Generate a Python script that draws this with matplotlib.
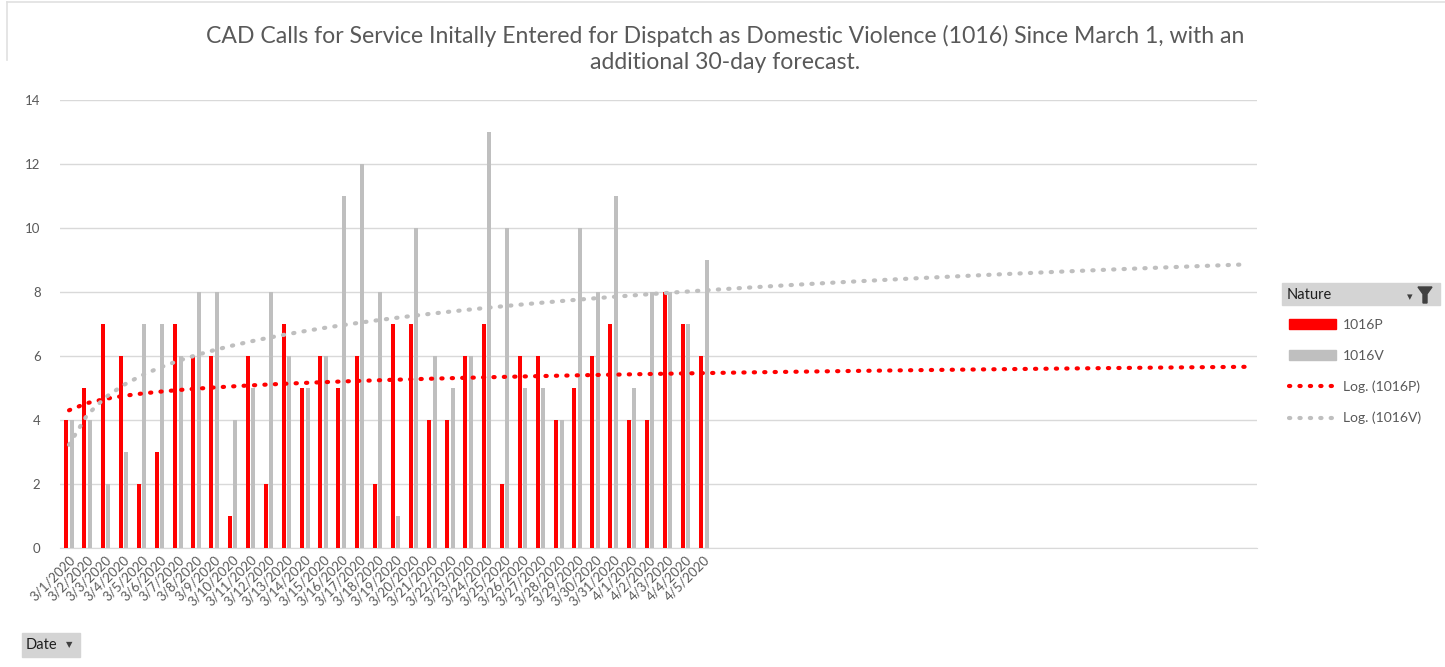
import numpy as np
import matplotlib.pyplot as plt
from matplotlib.patches import Patch, Rectangle, Polygon
from matplotlib.lines import Line2D

plt.rcParams['font.family'] = ['Lato', 'DejaVu Sans']

# data
dates = ['3/1/2020', '3/2/2020', '3/3/2020', '3/4/2020', '3/5/2020', '3/6/2020',
         '3/7/2020', '3/8/2020', '3/9/2020', '3/10/2020', '3/11/2020', '3/12/2020',
         '3/13/2020', '3/14/2020', '3/15/2020', '3/16/2020', '3/17/2020', '3/18/2020',
         '3/19/2020', '3/20/2020', '3/21/2020', '3/22/2020', '3/23/2020', '3/24/2020',
         '3/25/2020', '3/26/2020', '3/27/2020', '3/28/2020', '3/29/2020', '3/30/2020',
         '3/31/2020', '4/1/2020', '4/2/2020', '4/3/2020', '4/4/2020', '4/5/2020']
calls_1016p = [4, 5, 7, 6, 2, 3, 7, 6, 6, 1, 6, 2, 7, 5, 6, 5, 6, 2,
               7, 7, 4, 4, 6, 7, 2, 6, 6, 4, 5, 6, 7, 4, 4, 8, 7, 6]
calls_1016v = [4, 4, 2, 3, 7, 7, 6, 8, 8, 4, 5, 8, 6, 5, 6, 11, 12, 8,
               1, 10, 6, 5, 6, 13, 10, 5, 5, 4, 10, 8, 11, 5, 8, 8, 7, 9]
forecast_days = 30

RED = '#ff0000'
GRAY = '#bfbfbf'
TXT = '#595959'

fig = plt.figure(figsize=(14.45, 6.67), dpi=100)
ax = fig.add_axes([0.0415, 0.1784, 0.8285, 0.6716])

n = len(dates)
x = np.arange(n)
ax.bar(x - 0.15, calls_1016p, width=0.22, color=RED, zorder=3)
ax.bar(x + 0.15, calls_1016v, width=0.22, color=GRAY, zorder=3)

# logarithmic trendlines (like Excel), extended 30 periods forward
t = np.arange(1, n + forecast_days + 1)
dots = (0, (0.3, 2.2))
for vals, col in [(calls_1016p, RED), (calls_1016v, GRAY)]:
    c, b = np.polyfit(np.log(np.arange(1, n + 1)), vals, 1)
    ax.plot(t - 1, c * np.log(t) + b, color=col, lw=3.0, linestyle=dots,
            dash_capstyle='round', zorder=4)

ax.set_xlim(-0.5, n + forecast_days - 0.5)
ax.set_ylim(0, 14)
ax.set_yticks(range(0, 15, 2))
ax.set_xticks(x)
ax.set_xticklabels(dates, rotation=45, ha='right', va='top', rotation_mode='anchor')
ax.tick_params(axis='x', length=0, labelsize=9.5, colors=TXT, pad=4)
ax.tick_params(axis='y', length=0, labelsize=9.5, colors=TXT, pad=14)
ax.grid(axis='y', color='#d9d9d9', lw=1, zorder=0)
for s in ['top', 'right', 'left']:
    ax.spines[s].set_visible(False)
ax.spines['bottom'].set_color('#d9d9d9')

fig.text(0.502, 0.962, 'CAD Calls for Service Initally Entered for Dispatch as Domestic Violence (1016) Since March 1, with an\nadditional 30-day forecast.',
         ha='center', va='top', fontsize=16.6, color=TXT, linespacing=1.25)

# faint frame at the top and left edge
fig.lines.append(Line2D([7 / 1445, 1], [1 - 2 / 667, 1 - 2 / 667], transform=fig.transFigure,
                        color='#e0e0e0', lw=1.2))
fig.lines.append(Line2D([7 / 1445, 7 / 1445], [1 - 2 / 667, 1 - 60 / 667], transform=fig.transFigure,
                        color='#e0e0e0', lw=1.2))

# legend
handles = [Patch(color=RED), Patch(color=GRAY),
           Line2D([], [], color=RED, lw=3.0, linestyle=dots, dash_capstyle='round'),
           Line2D([], [], color=GRAY, lw=3.0, linestyle=dots, dash_capstyle='round')]
labels = ['1016P', '1016V', 'Log. (1016P)', 'Log. (1016V)']
leg = fig.legend(handles, labels, loc='upper left', bbox_to_anchor=(0.888, 0.530),
                 frameon=False, fontsize=10, handlelength=3.4, labelspacing=1.35,
                 handletextpad=0.5, borderaxespad=0)
for tx in leg.get_texts():
    tx.set_color(TXT)

# "Nature" field button
fig.patches.append(Rectangle((1282 / 1445, 1 - 305 / 667), 158 / 1445, 22 / 667,
                             transform=fig.transFigure, color='#d4d4d4', zorder=1))
fig.text(1287 / 1445, 1 - 295 / 667, 'Nature', fontsize=10.5, color='#1f1f1f', va='center')
fig.patches.append(Polygon([(1418 / 1445, 1 - 287 / 667), (1432 / 1445, 1 - 287 / 667),
                            (1427 / 1445, 1 - 294 / 667), (1427 / 1445, 1 - 303 / 667),
                            (1423 / 1445, 1 - 303 / 667), (1423 / 1445, 1 - 294 / 667)],
                           closed=True, transform=fig.transFigure, color='#404040'))
fig.text(1410 / 1445, 1 - 297 / 667, '▾', fontsize=8, color='#404040', va='center', ha='center',
         family='DejaVu Sans')

# "Date" field button
fig.patches.append(Rectangle((22 / 1445, 1 - 657 / 667), 58 / 1445, 24 / 667,
                             transform=fig.transFigure, color='#d4d4d4', zorder=1))
fig.text(26 / 1445, 1 - 645 / 667, 'Date', fontsize=10.5, color='#1f1f1f', va='center')
fig.text(69 / 1445, 1 - 645 / 667, '▼', fontsize=6, color='#404040', va='center', ha='center',
         family='DejaVu Sans')

fig.savefig('out.png', dpi=100)
